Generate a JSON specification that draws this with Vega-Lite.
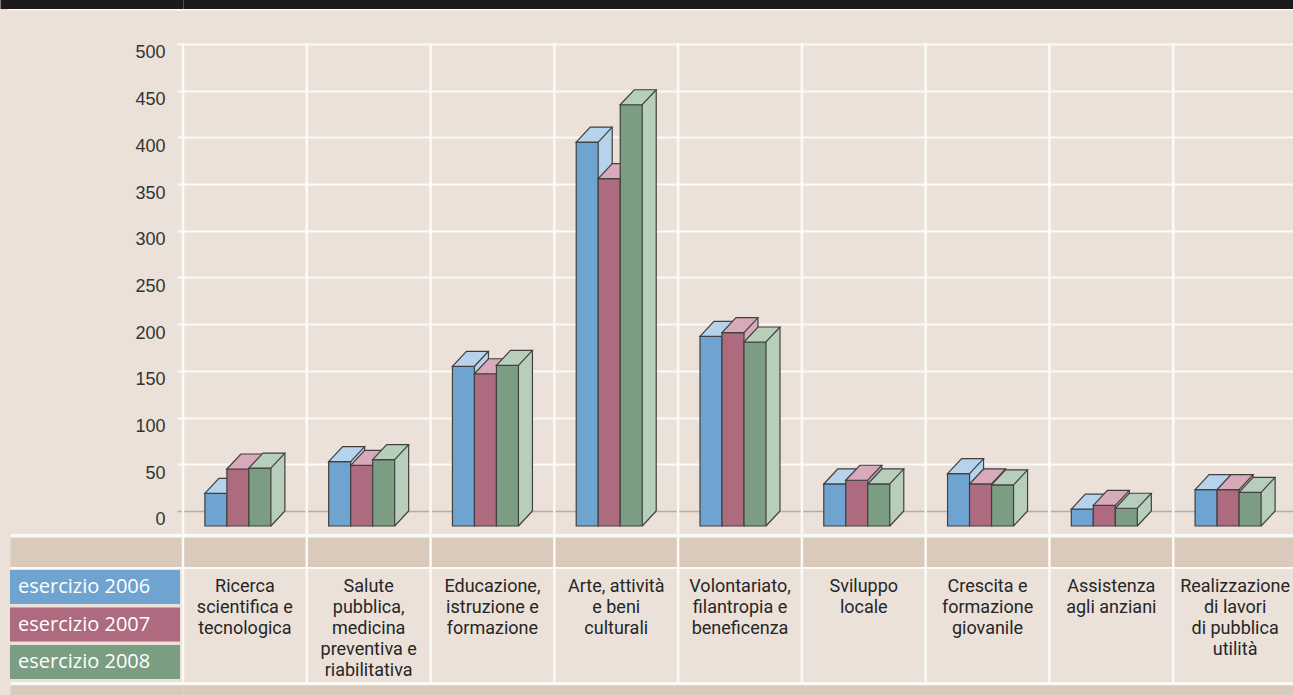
{
  "$schema": "https://vega.github.io/schema/vega-lite/v6.json",
  "width": 1110,
  "height": 695,
  "autosize": "none",
  "padding": {"left": 183, "top": 0, "right": 0, "bottom": 0},
  "background": "#ebe1d9",
  "config": {"view": {"stroke": null}},
  "datasets": {
    "d": [
      {"category": "Ricerca\nscientifica e\ntecnologica", "series": "esercizio 2006", "value": 35},
      {"category": "Ricerca\nscientifica e\ntecnologica", "series": "esercizio 2007", "value": 61},
      {"category": "Ricerca\nscientifica e\ntecnologica", "series": "esercizio 2008", "value": 62},
      {"category": "Salute\npubblica,\nmedicina\npreventiva e\nriabilitativa", "series": "esercizio 2006", "value": 69},
      {"category": "Salute\npubblica,\nmedicina\npreventiva e\nriabilitativa", "series": "esercizio 2007", "value": 65},
      {"category": "Salute\npubblica,\nmedicina\npreventiva e\nriabilitativa", "series": "esercizio 2008", "value": 71},
      {"category": "Educazione,\nistruzione e\nformazione", "series": "esercizio 2006", "value": 171},
      {"category": "Educazione,\nistruzione e\nformazione", "series": "esercizio 2007", "value": 163},
      {"category": "Educazione,\nistruzione e\nformazione", "series": "esercizio 2008", "value": 172},
      {"category": "Arte, attività\ne beni\nculturali", "series": "esercizio 2006", "value": 411},
      {"category": "Arte, attività\ne beni\nculturali", "series": "esercizio 2007", "value": 372},
      {"category": "Arte, attività\ne beni\nculturali", "series": "esercizio 2008", "value": 451},
      {"category": "Volontariato,\nfilantropia e\nbeneficenza", "series": "esercizio 2006", "value": 203},
      {"category": "Volontariato,\nfilantropia e\nbeneficenza", "series": "esercizio 2007", "value": 207},
      {"category": "Volontariato,\nfilantropia e\nbeneficenza", "series": "esercizio 2008", "value": 197},
      {"category": "Sviluppo\nlocale", "series": "esercizio 2006", "value": 45},
      {"category": "Sviluppo\nlocale", "series": "esercizio 2007", "value": 49},
      {"category": "Sviluppo\nlocale", "series": "esercizio 2008", "value": 45},
      {"category": "Crescita e\nformazione\ngiovanile", "series": "esercizio 2006", "value": 56},
      {"category": "Crescita e\nformazione\ngiovanile", "series": "esercizio 2007", "value": 45},
      {"category": "Crescita e\nformazione\ngiovanile", "series": "esercizio 2008", "value": 44},
      {"category": "Assistenza\nagli anziani", "series": "esercizio 2006", "value": 18},
      {"category": "Assistenza\nagli anziani", "series": "esercizio 2007", "value": 22},
      {"category": "Assistenza\nagli anziani", "series": "esercizio 2008", "value": 19},
      {"category": "Realizzazione\ndi lavori\ndi pubblica\nutilità", "series": "esercizio 2006", "value": 39},
      {"category": "Realizzazione\ndi lavori\ndi pubblica\nutilità", "series": "esercizio 2007", "value": 39},
      {"category": "Realizzazione\ndi lavori\ndi pubblica\nutilità", "series": "esercizio 2008", "value": 36}
    ]
  },
  "data": {"name": "d"},
  "encoding": {
    "x": {
      "field": "category", "type": "nominal", "sort": null,
      "scale": {
        "domain": ["Ricerca\nscientifica e\ntecnologica", "Salute\npubblica,\nmedicina\npreventiva e\nriabilitativa", "Educazione,\nistruzione e\nformazione", "Arte, attività\ne beni\nculturali", "Volontariato,\nfilantropia e\nbeneficenza", "Sviluppo\nlocale", "Crescita e\nformazione\ngiovanile", "Assistenza\nagli anziani", "Realizzazione\ndi lavori\ndi pubblica\nutilità"],
        "range": [0, 1114], "paddingInner": 0, "paddingOuter": 0
      },
      "axis": {
        "orient": "bottom", "offset": -118, "title": null, "domain": false, "ticks": false, "grid": false,
        "labelAngle": 0, "labelPadding": 0, "labelBaseline": "top", "labelAlign": "center",
        "labelFont": "Roboto", "labelFontSize": 18, "labelLineHeight": 21.2, "labelColor": "#262626",
        "labelLimit": 0, "labelExpr": "split(datum.label, '\\n')"
      }
    },
    "y": {
      "field": "value", "type": "quantitative",
      "scale": {"domain": [-197, 547.1], "nice": false, "zero": false},
      "axis": {
        "title": null, "domain": false, "tickCount": 40,
        "values": [542.8, 537.6, 500, 450, 400, 350, 300, 250, 200, 150, 100, 50, 0, -25.7, -43.4, -60, -184.2, -191.8],
        "grid": true,
        "gridColor": {"condition": [
          {"test": "datum.value > 540", "value": "#1e1a1a"},
          {"test": "datum.value === 0", "value": "#b9ada2"},
          {"test": "(datum.value > -50 && datum.value < -40) || datum.value < -190", "value": "#dacabc"}
        ], "value": "#fcfaf7"},
        "gridWidth": {"condition": [
          {"test": "datum.value > 540", "value": 9},
          {"test": "datum.value > -50 && datum.value < -40", "value": 29},
          {"test": "datum.value < -190", "value": 10},
          {"test": "datum.value < 0", "value": 3},
          {"test": "datum.value === 0", "value": 1.5}
        ], "value": 2},
        "tickColor": {"condition": [
          {"test": "datum.value > 540", "value": "#1e1a1a"},
          {"test": "datum.value === 0", "value": "#b9ada2"},
          {"test": "(datum.value > -50 && datum.value < -40) || datum.value < -190", "value": "#dacabc"}
        ], "value": "#fcfaf7"},
        "tickWidth": {"condition": [
          {"test": "datum.value > 540", "value": 9},
          {"test": "datum.value > -50 && datum.value < -40", "value": 29},
          {"test": "datum.value < -190", "value": 10},
          {"test": "datum.value < 0", "value": 3},
          {"test": "datum.value === 0", "value": 1.5}
        ], "value": 2},
        "tickSize": {"condition": [
          {"test": "datum.value > 540", "value": 183},
          {"test": "datum.value > 520", "value": 175},
          {"test": "datum.value < 0", "value": 173}
        ], "value": 6},
        "labelExpr": "datum.value >= 0 && datum.value <= 500 ? datum.label : ''",
        "labelFont": "Liberation Sans", "labelFontSize": 18, "labelColor": "#333333",
        "labelPadding": 12, "labelBaseline": "middle", "labelOffset": 9
      }
    }
  },
  "layer": [
    {
      "transform": [{"filter": {"field": "series", "equal": "esercizio 2006"}}],
      "mark": {"type": "rule", "stroke": "#fcfaf7", "strokeWidth": 2.5},
      "encoding": {
        "x": {"field": "category", "type": "nominal", "bandPosition": 0},
        "y": {"datum": 501},
        "y2": {"datum": -184.2}
      }
    },
    {
      "transform": [{"filter": {"field": "series", "equal": "esercizio 2006"}}],
      "layer": [
        {"mark": {"type": "bar", "width": 14, "xOffset": -11, "fill": "#b6d3eb", "strokeWidth": 0}, "encoding": {"y2": {"datum": 0}}},
        {"mark": {"type": "point", "shape": "M11,0L25,0L11,15Z", "size": 4, "xOffset": -29, "filled": true, "fill": "#b6d3eb", "strokeWidth": 0, "opacity": 1}, "encoding": {"y": {"datum": 0}}},
        {"mark": {"type": "rule", "xOffset": -4, "stroke": "#404040", "strokeWidth": 1.2}, "encoding": {"y2": {"datum": 0}}},
        {"mark": {"type": "point", "shape": "M11,15L25,0", "size": 4, "xOffset": -29, "filled": false, "stroke": "#404040", "strokeWidth": 1.2, "opacity": 1}, "encoding": {"y": {"datum": 0}}},
        {"mark": {"type": "bar", "width": 22, "xOffset": -29, "yOffset": 15, "y2Offset": 15, "stroke": "#404040", "strokeWidth": 1.2},
         "encoding": {"y2": {"datum": 0},
           "fill": {"field": "series", "type": "nominal",
             "scale": {"domain": ["esercizio 2006", "esercizio 2007", "esercizio 2008"], "range": ["#6fa4d1", "#ae6a7f", "#7b9e83"]},
             "legend": {"orient": "none", "legendX": -173, "legendY": 570, "title": null, "padding": 0, "rowPadding": 3.5,
               "symbolType": "M-5,-1H5V1H-5Z", "symbolSize": 1156, "symbolOffset": 68, "symbolStrokeWidth": 0, "symbolStrokeColor": "transparent",
               "labelOffset": -94, "labelColor": "#ffffff", "labelFont": "Open Sans", "labelFontSize": 20, "labelLimit": 0}}}},
        {"mark": {"type": "point", "shape": "M-11,15L11,15L25,0L3,0Z", "size": 4, "xOffset": -29, "filled": true, "fill": "#b6d3eb", "stroke": "#404040", "strokeWidth": 1.2, "opacity": 1}}
      ]
    },
    {
      "transform": [{"filter": {"field": "series", "equal": "esercizio 2007"}}],
      "layer": [
        {"mark": {"type": "bar", "width": 14, "xOffset": 11, "fill": "#d8a9b8", "strokeWidth": 0}, "encoding": {"y2": {"datum": 0}}},
        {"mark": {"type": "point", "shape": "M11,0L25,0L11,15Z", "size": 4, "xOffset": -7, "filled": true, "fill": "#d8a9b8", "strokeWidth": 0, "opacity": 1}, "encoding": {"y": {"datum": 0}}},
        {"mark": {"type": "rule", "xOffset": 18, "stroke": "#404040", "strokeWidth": 1.2}, "encoding": {"y2": {"datum": 0}}},
        {"mark": {"type": "point", "shape": "M11,15L25,0", "size": 4, "xOffset": -7, "filled": false, "stroke": "#404040", "strokeWidth": 1.2, "opacity": 1}, "encoding": {"y": {"datum": 0}}},
        {"mark": {"type": "bar", "width": 22, "xOffset": -7, "yOffset": 15, "y2Offset": 15, "stroke": "#404040", "strokeWidth": 1.2},
         "encoding": {"y2": {"datum": 0},
           "fill": {"field": "series", "type": "nominal",
             "scale": {"domain": ["esercizio 2006", "esercizio 2007", "esercizio 2008"], "range": ["#6fa4d1", "#ae6a7f", "#7b9e83"]},
             "legend": {"orient": "none", "legendX": -173, "legendY": 570, "title": null, "padding": 0, "rowPadding": 3.5,
               "symbolType": "M-5,-1H5V1H-5Z", "symbolSize": 1156, "symbolOffset": 68, "symbolStrokeWidth": 0, "symbolStrokeColor": "transparent",
               "labelOffset": -94, "labelColor": "#ffffff", "labelFont": "Open Sans", "labelFontSize": 20, "labelLimit": 0}}}},
        {"mark": {"type": "point", "shape": "M-11,15L11,15L25,0L3,0Z", "size": 4, "xOffset": -7, "filled": true, "fill": "#d8a9b8", "stroke": "#404040", "strokeWidth": 1.2, "opacity": 1}}
      ]
    },
    {
      "transform": [{"filter": {"field": "series", "equal": "esercizio 2008"}}],
      "layer": [
        {"mark": {"type": "bar", "width": 14, "xOffset": 33, "fill": "#b7cfba", "strokeWidth": 0}, "encoding": {"y2": {"datum": 0}}},
        {"mark": {"type": "point", "shape": "M11,0L25,0L11,15Z", "size": 4, "xOffset": 15, "filled": true, "fill": "#b7cfba", "strokeWidth": 0, "opacity": 1}, "encoding": {"y": {"datum": 0}}},
        {"mark": {"type": "rule", "xOffset": 40, "stroke": "#404040", "strokeWidth": 1.2}, "encoding": {"y2": {"datum": 0}}},
        {"mark": {"type": "point", "shape": "M11,15L25,0", "size": 4, "xOffset": 15, "filled": false, "stroke": "#404040", "strokeWidth": 1.2, "opacity": 1}, "encoding": {"y": {"datum": 0}}},
        {"mark": {"type": "bar", "width": 22, "xOffset": 15, "yOffset": 15, "y2Offset": 15, "stroke": "#404040", "strokeWidth": 1.2},
         "encoding": {"y2": {"datum": 0},
           "fill": {"field": "series", "type": "nominal",
             "scale": {"domain": ["esercizio 2006", "esercizio 2007", "esercizio 2008"], "range": ["#6fa4d1", "#ae6a7f", "#7b9e83"]},
             "legend": {"orient": "none", "legendX": -173, "legendY": 570, "title": null, "padding": 0, "rowPadding": 3.5,
               "symbolType": "M-5,-1H5V1H-5Z", "symbolSize": 1156, "symbolOffset": 68, "symbolStrokeWidth": 0, "symbolStrokeColor": "transparent",
               "labelOffset": -94, "labelColor": "#ffffff", "labelFont": "Open Sans", "labelFontSize": 20, "labelLimit": 0}}}},
        {"mark": {"type": "point", "shape": "M-11,15L11,15L25,0L3,0Z", "size": 4, "xOffset": 15, "filled": true, "fill": "#b7cfba", "stroke": "#404040", "strokeWidth": 1.2, "opacity": 1}}
      ]
    }
  ]
}
